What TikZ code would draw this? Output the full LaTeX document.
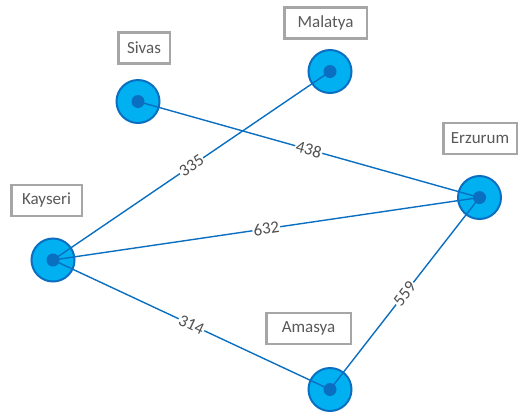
\documentclass[tikz,border=0pt]{standalone}
\usepackage{fontspec}
\setmainfont{Carlito}
\definecolor{cityfill}{HTML}{00B0F0}
\definecolor{cityline}{HTML}{0B6FC1}
\definecolor{boxline}{HTML}{A6A6A6}
\definecolor{boxtext}{HTML}{595959}
\definecolor{weighttext}{HTML}{505050}
\tikzset{
  city/.style={circle, draw=cityline, fill=cityfill, line width=2pt, minimum size=43pt, inner sep=0pt},
  hub/.style={circle, fill=cityline, minimum size=13pt, inner sep=0pt},
  namebox/.style={draw=boxline, line width=2.5pt, fill=white, minimum height=31pt, inner sep=0pt,
    text=boxtext, font=\fontsize{17}{20}\selectfont},
  road/.style={draw=cityline, line width=1.4pt},
  weight/.style={midway, sloped, fill=white, inner sep=1pt, text=weighttext, font=\fontsize{17}{20}\selectfont}
}
\begin{document}
\begin{tikzpicture}[x=1pt, y=-1pt]
\useasboundingbox (0,0) rectangle (520,413);

% city name boxes
\node[namebox, minimum width=51.5pt] (lsivas)   at (144,48)    {Sivas};
\node[namebox, minimum width=82.5pt] (lmalatya) at (325.5,23)  {Malatya};
\node[namebox, minimum width=70.5pt] (lkayseri) at (46.5,200.5) {Kayseri};
\node[namebox, minimum width=73.5pt] (lerzurum) at (480,138.5) {Erzurum};
\node[namebox, minimum width=84.5pt] (lamasya)  at (308.5,328.5) {Amasya};

% cities
\node[city] (sivas)   at (138,101.5) {};
\node[city] (malatya) at (330,71.5)  {};
\node[city] (kayseri) at (53,260)    {};
\node[city] (erzurum) at (479.5,197.5) {};
\node[city] (amasya)  at (330,389.5) {};

% roads with distances
\draw[road] (kayseri.center) -- (malatya.center) node[weight] (w1) {335};
\draw[road] (sivas.center)   -- (erzurum.center) node[weight] (w2) {438};
\draw[road] (kayseri.center) -- (erzurum.center) node[weight] (w3) {632};
\draw[road] (kayseri.center) -- (amasya.center)  node[weight] (w4) {314};
\draw[road] (amasya.center)  -- (erzurum.center) node[weight] (w5) {559};

% centre dots
\foreach \c in {sivas, malatya, kayseri, erzurum, amasya}
  \node[hub] (\c-dot) at (\c.center) {};
\end{tikzpicture}
\end{document}
